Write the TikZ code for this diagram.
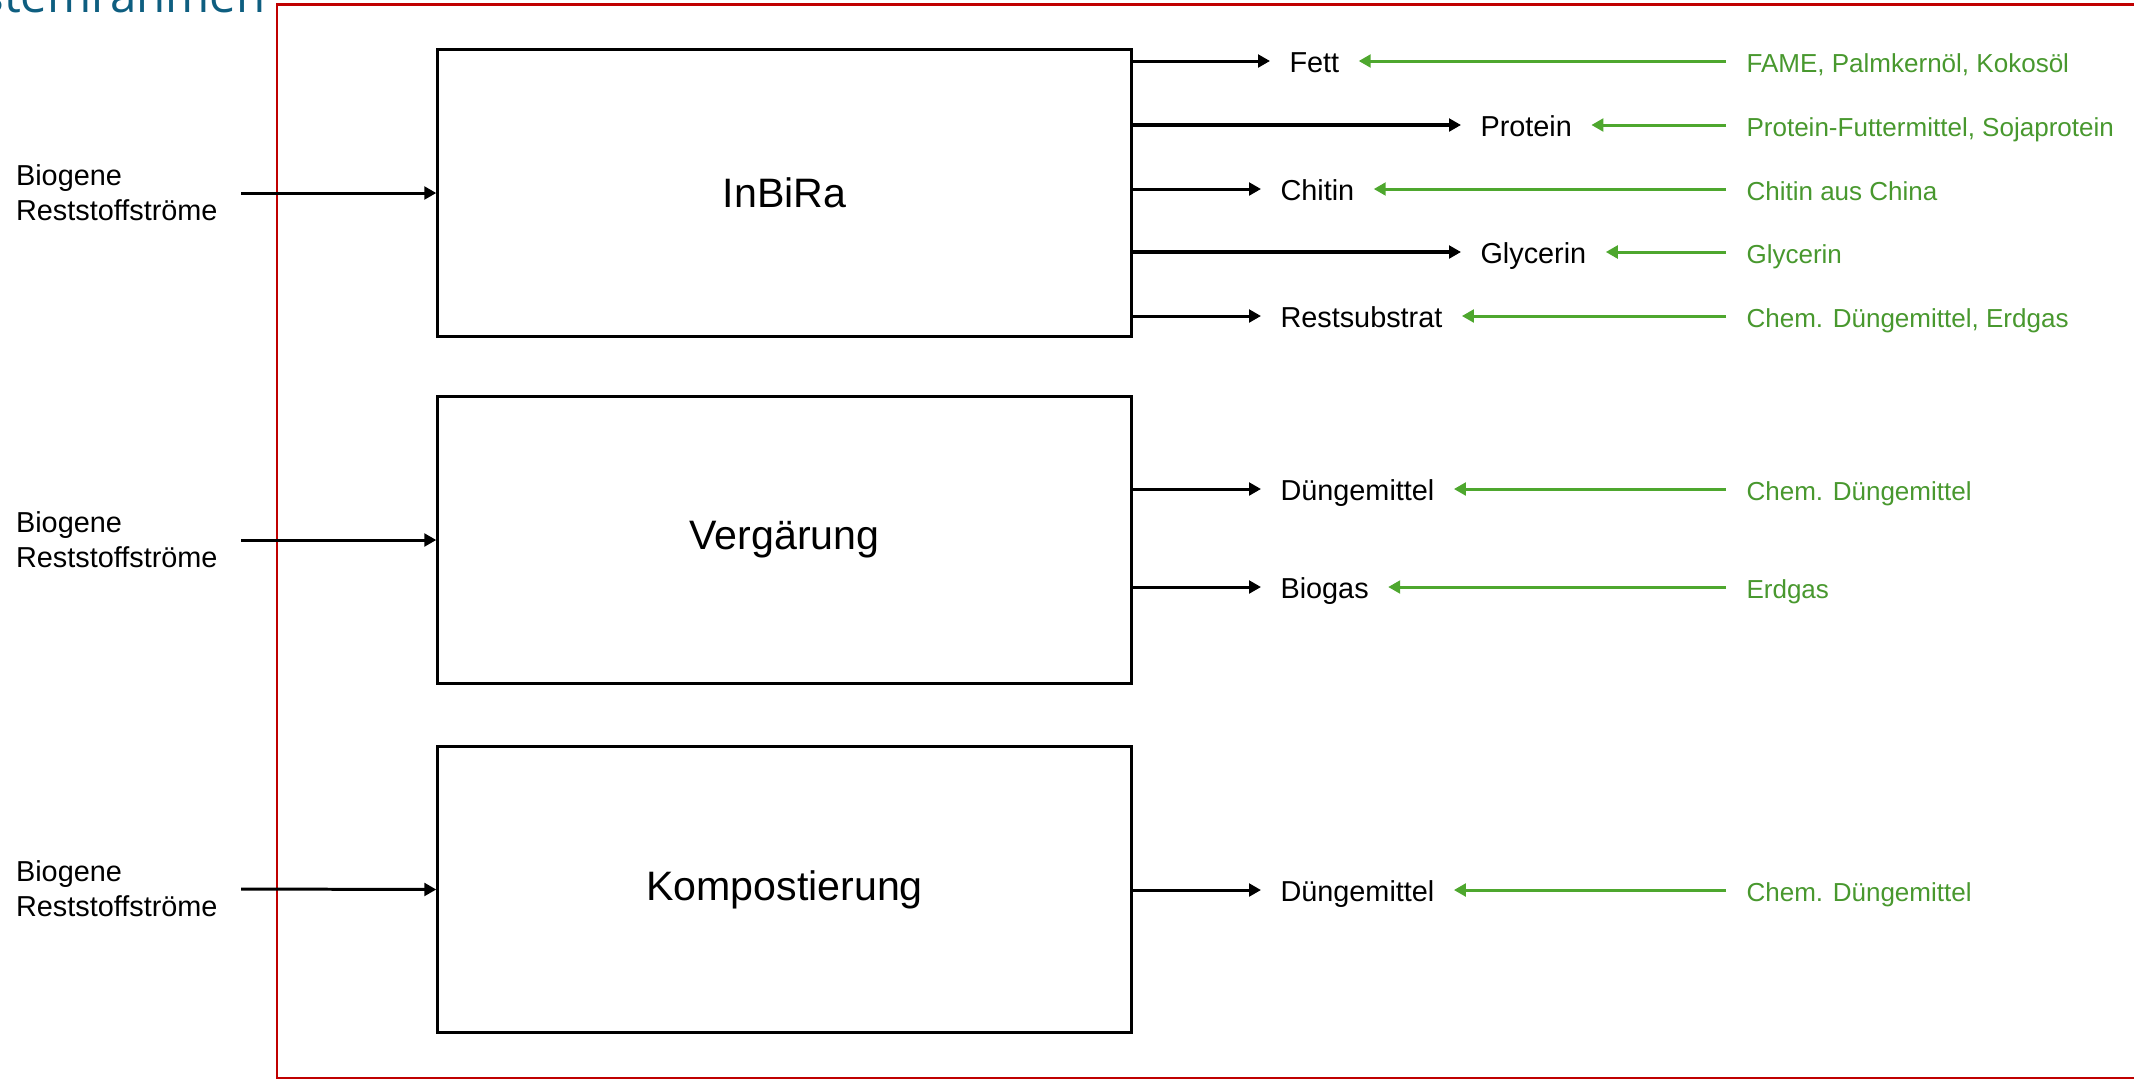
\documentclass[tikz,border=0pt]{standalone}
\usepackage{fontspec}
\setmainfont{Liberation Sans}
\newfontfamily\titlefont{Open Sans}
\usetikzlibrary{arrows.meta,positioning}
\definecolor{framered}{RGB}{192,0,0}
\definecolor{subgreen}{RGB}{78,167,46}
\definecolor{subtext}{RGB}{72,152,46}
\definecolor{titleblue}{RGB}{14,94,128}
\begin{document}
\begin{tikzpicture}[x=0.01cm, y=-0.01cm, line width=0.85pt,
    -{Triangle[length=3.4pt,width=3.6pt]},
    process/.style={draw, -, minimum width=6.93cm, minimum height=2.86cm, inner sep=0,
        font=\fontsize{11.7}{14}\selectfont},
    source/.style={inner xsep=0.22cm, inner ysep=0, align=left,
        font=\fontsize{8.2}{10}\selectfont},
    product/.style={anchor=west, inner xsep=0.18cm, inner ysep=0, text height=1.5ex, text depth=.3ex,
        font=\fontsize{8.2}{10}\selectfont},
    subst/.style={anchor=west, inner xsep=0.19cm, inner ysep=0, text height=1.5ex, text depth=.3ex,
        text=subtext, font=\fontsize{7.4}{9}\selectfont},
    subarrow/.style={subgreen}]
    \useasboundingbox (0,0) rectangle (2134,1078);

    % System boundary
    \draw[framered, -] (277,4) rectangle (2160,1078);
    \node[anchor=base east, inner sep=0, text=titleblue, font=\titlefont\fontsize{13.5}{16}\selectfont]
        (title) at (267,12) {Systemrahmen};

    % Define processes
    \node[process] (inbira) at (784.5,193) {InBiRa};
    \node[process] (vergaerung) at (784.5,540) {Vergärung};
    \node[process] (kompost) at (784.5,889.5) {Kompostierung};

    % Inputs
    \node[source, anchor=east] (src1) at (241,193) {Biogene\\Reststoffströme};
    \node[source, anchor=east] (src2) at (241,540) {Biogene\\Reststoffströme};
    \node[source, anchor=east] (src3) at (241,889) {Biogene\\Reststoffströme};
    \draw (src1.east) -- (inbira.west);
    \draw (src2.east) -- (vergaerung.west);
    \draw (src3.east) -- (kompost.west);

    % Products
    \node[product] (fett) at (1270,61) {Fett};
    \node[product] (protein) at (1461,125) {Protein};
    \node[product] (chitin) at (1261,189) {Chitin};
    \node[product] (glycerin) at (1461,252) {Glycerin};
    \node[product] (rest) at (1261,316) {Restsubstrat};
    \node[product] (duenger1) at (1261,489) {Düngemittel};
    \node[product] (biogas) at (1261,587) {Biogas};
    \node[product] (duenger2) at (1261,890) {Düngemittel};

    \draw (inbira.east |- fett.west) -- (fett.west);
    \draw[line width=1.1pt] (inbira.east |- protein.west) -- (protein.west);
    \draw (inbira.east |- chitin.west) -- (chitin.west);
    \draw[line width=1.1pt] (inbira.east |- glycerin.west) -- (glycerin.west);
    \draw (inbira.east |- rest.west) -- (rest.west);
    \draw (vergaerung.east |- duenger1.west) -- (duenger1.west);
    \draw (vergaerung.east |- biogas.west) -- (biogas.west);
    \draw (kompost.east |- duenger2.west) -- (duenger2.west);

    % Substituted products
    \node[subst] (fame) at (1726,61) {FAME, Palmkernöl, Kokosöl};
    \node[subst] (futter) at (1726,125) {Protein-Futtermittel, Sojaprotein};
    \node[subst] (china) at (1726,189) {Chitin aus China};
    \node[subst] (glyc) at (1726,252) {Glycerin};
    \node[subst] (chemerd) at (1726,316) {Chem. Düngemittel, Erdgas};
    \node[subst] (chem1) at (1726,489) {Chem. Düngemittel};
    \node[subst] (erdgas) at (1726,587) {Erdgas};
    \node[subst] (chem2) at (1726,890) {Chem. Düngemittel};

    \draw[subarrow] (fame.west) -- (fett.east);
    \draw[subarrow] (futter.west) -- (protein.east);
    \draw[subarrow] (china.west) -- (chitin.east);
    \draw[subarrow] (glyc.west) -- (glycerin.east);
    \draw[subarrow] (chemerd.west) -- (rest.east);
    \draw[subarrow] (chem1.west) -- (duenger1.east);
    \draw[subarrow] (erdgas.west) -- (biogas.east);
    \draw[subarrow] (chem2.west) -- (duenger2.east);

\end{tikzpicture}
\end{document}
